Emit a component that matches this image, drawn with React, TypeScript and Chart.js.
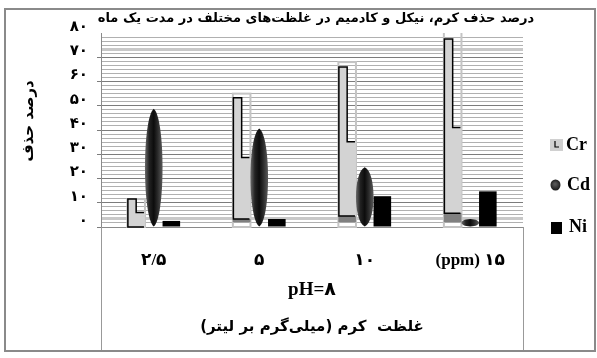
import React, { useEffect, useRef } from 'react';
import { Chart, registerables } from 'chart.js';

Chart.register(...registerables);

const categories = ['۲/۵', '۵', '۱۰', '(ppm) ۱۵'];
const seriesNames = ['Cr', 'Cd', 'Ni'];
const crTop = [11.5, 53.3, 66, 77.5];
const crStep = [6, 28.7, 35.2, 41];
const crBase = [0, 3.3, 4.5, 5.7];
const crFrame = [11.5, 55, 68, 85];
const cdValues = [48.8, 40.6, 24.6, 3.3];
const niValues = [2.5, 3.3, 12.7, 14.7];
const yTickLabels = ['۰', '۱۰', '۲۰', '۳۰', '۴۰', '۵۰', '۶۰', '۷۰', '۸۰'];
const chartTitle = 'درصد حذف کرم، نیکل و کادمیم در غلظت‌های مختلف در مدت یک ماه';
const yTitle = 'درصد حذف';
const phLabel = 'pH=۸';
const xTitle = 'غلظت  کرم (میلی‌گرم بر لیتر)\u200F';

const SANS = '"DejaVu Sans", sans-serif';
const SERIF = '"Liberation Serif", "DejaVu Sans", serif';

const decorPlugin = {
  id: 'decor',
  beforeDraw(chart: any) {
    const ctx = chart.ctx;
    ctx.save();
    ctx.fillStyle = '#ffffff';
    ctx.fillRect(0, 0, chart.width, chart.height);
    ctx.restore();
  },
  afterDatasetsDraw(chart: any) {
    const { ctx, chartArea, scales } = chart;
    const y = scales.y;
    ctx.save();
    ctx.beginPath();
    ctx.rect(chartArea.left, chartArea.top, chartArea.right - chartArea.left, chartArea.bottom - chartArea.top + 1);
    ctx.clip();

    // Cr stepped columns
    const crMeta = chart.getDatasetMeta(0);
    crMeta.data.forEach((bar: any, i: number) => {
      const { x, width } = bar.getProps(['x', 'width'], true);
      const l = x - width / 2;
      const r = x + width / 2;
      const mid = l + width * 0.5;
      const y0 = y.getPixelForValue(0);
      const yTop = y.getPixelForValue(crTop[i]);
      const yStep = y.getPixelForValue(crStep[i]);
      const yBase = y.getPixelForValue(crBase[i]);
      const yFrame = y.getPixelForValue(crFrame[i]);
      const yFoot = y.getPixelForValue(Math.min(crBase[i], 2));
      ctx.strokeStyle = '#c4c4c4';
      ctx.lineWidth = 2;
      ctx.strokeRect(l, yFrame, width, y0 - yFrame);
      ctx.fillStyle = '#d3d3d3';
      ctx.beginPath();
      ctx.moveTo(l, yBase);
      ctx.lineTo(l, yTop);
      ctx.lineTo(mid, yTop);
      ctx.lineTo(mid, yStep);
      ctx.lineTo(r, yStep);
      ctx.lineTo(r, yBase);
      ctx.closePath();
      ctx.fill();
      if (yFoot > yBase) {
        ctx.fillStyle = '#808080';
        ctx.fillRect(l, yBase, width, yFoot - yBase);
      }
      ctx.strokeStyle = '#000';
      ctx.lineWidth = 1.5;
      ctx.beginPath();
      ctx.moveTo(r - 1, yBase);
      ctx.lineTo(l + 0.5, yBase);
      ctx.lineTo(l + 0.5, yTop);
      ctx.lineTo(mid, yTop);
      ctx.lineTo(mid, yStep);
      ctx.lineTo(r - 1, yStep);
      ctx.stroke();
    });

    // Cd spindles
    const cdMeta = chart.getDatasetMeta(1);
    cdMeta.data.forEach((bar: any) => {
      const { x, y: yt, base, width } = bar.getProps(['x', 'y', 'base', 'width'], true);
      const h = base - yt;
      const k = (width / 2) / 0.75;
      const g = ctx.createLinearGradient(x - width / 2, 0, x + width / 2, 0);
      g.addColorStop(0, '#6a6a6a');
      g.addColorStop(0.25, '#222');
      g.addColorStop(0.5, '#0c0c0c');
      g.addColorStop(0.72, '#2a2a2a');
      g.addColorStop(1, '#5a5a5a');
      ctx.fillStyle = g;
      ctx.beginPath();
      ctx.moveTo(x, yt);
      ctx.bezierCurveTo(x + k, yt + h * 0.08, x + k, base - h * 0.08, x, base);
      ctx.bezierCurveTo(x - k, base - h * 0.08, x - k, yt + h * 0.08, x, yt);
      ctx.closePath();
      ctx.fill();
    });
    ctx.restore();
  },
  afterDraw(chart: any) {
    const { ctx, chartArea } = chart;
    ctx.save();
    ctx.strokeStyle = '#8a8a8a';
    ctx.lineWidth = 2;
    ctx.strokeRect(5, 9, 590, 342);
    ctx.strokeStyle = '#999';
    ctx.lineWidth = 1;
    ctx.beginPath();
    ctx.moveTo(Math.round(chartArea.left) + 0.5, chartArea.bottom);
    ctx.lineTo(Math.round(chartArea.left) + 0.5, 350);
    ctx.moveTo(Math.round(chartArea.right) + 0.5, chartArea.bottom);
    ctx.lineTo(Math.round(chartArea.right) + 0.5, 350);
    ctx.stroke();

    const cx = (chartArea.left + chartArea.right) / 2;
    ctx.fillStyle = '#000';
    ctx.textAlign = 'center';
    ctx.textBaseline = 'middle';
    // title
    ctx.font = `bold 13px ${SANS}`;
    ctx.fillText(chartTitle, 316, 19);
    // pH line
    ctx.font = `bold 19px ${SERIF}`;
    ctx.fillText(phLabel, cx, 290);

    // y title
    ctx.save();
    ctx.translate(29, 121);
    ctx.rotate(-Math.PI / 2);
    ctx.font = `bold 15px ${SANS}`;
    ctx.fillText(yTitle, 0, 0);
    ctx.restore();

    // legend
    const lx = chartArea.right + 27;
    const rowsY = [145, 185, 227];
    ctx.font = `bold 18px ${SERIF}`;
    ctx.textAlign = 'left';
    ctx.fillStyle = '#d0d0d0';
    ctx.fillRect(lx, rowsY[0] - 6, 13, 12);
    ctx.strokeStyle = '#000';
    ctx.lineWidth = 1.2;
    ctx.beginPath();
    ctx.moveTo(lx + 5, rowsY[0] - 4);
    ctx.lineTo(lx + 5, rowsY[0] + 2);
    ctx.lineTo(lx + 9, rowsY[0] + 2);
    ctx.stroke();
    const cg = ctx.createRadialGradient(lx + 5, rowsY[1] - 1, 1, lx + 5.5, rowsY[1], 6);
    cg.addColorStop(0, '#555');
    cg.addColorStop(1, '#111');
    ctx.fillStyle = cg;
    ctx.beginPath();
    ctx.ellipse(lx + 5.5, rowsY[1], 5, 5.5, 0, 0, Math.PI * 2);
    ctx.fill();
    ctx.fillStyle = '#000';
    ctx.fillRect(lx + 1, rowsY[2] - 5, 11, 12);
    ctx.fillText(seriesNames[0], lx + 16, rowsY[0]);
    ctx.fillText(seriesNames[1], lx + 17, rowsY[1]);
    ctx.fillText(seriesNames[2], lx + 19, rowsY[2]);
    ctx.restore();
  },
};

export default function App() {
  const canvasRef = useRef<HTMLCanvasElement | null>(null);

  useEffect(() => {
    const canvas = canvasRef.current;
    if (!canvas) return;
    const chart = new Chart(canvas, {
      type: 'bar',
      data: {
        labels: categories,
        datasets: [
          { label: seriesNames[0], data: crTop, backgroundColor: 'rgba(0,0,0,0)', borderWidth: 0 },
          { label: seriesNames[1], data: cdValues, backgroundColor: 'rgba(0,0,0,0)', borderWidth: 0 },
          { label: seriesNames[2], data: niValues, backgroundColor: '#000', borderWidth: 0 },
        ],
      },
      options: {
        responsive: false,
        animation: false,
        devicePixelRatio: 1,
        layout: { padding: { left: 0, right: 74, top: 33, bottom: 0 } },
        datasets: { bar: { categoryPercentage: 0.5, barPercentage: 1 } },
        plugins: {
          legend: { display: false },
          title: { display: false },
          tooltip: { enabled: false },
        },
        scales: {
          x: {
            grid: { display: false },
            border: { display: true, color: '#8a8a8a', width: 1 },
            ticks: {
              color: '#000',
              font: { family: SERIF, size: 17, weight: 'bold' },
              padding: 15,
              maxRotation: 0,
              autoSkip: false,
            },
            title: {
              display: true,
              text: xTitle,
              color: '#000',
              font: { family: SANS, size: 15, weight: 'bold', lineHeight: 1.2 },
              padding: { top: 0, bottom: 22 },
            },
            afterFit: (s: any) => {
              s.height = 131;
            },
          },
          y: {
            position: 'left',
            min: 0,
            max: 80,
            ticks: {
              stepSize: 10,
              color: '#000',
              font: { family: SANS, size: 15, weight: 'bold' },
              padding: 9,
              labelOffset: -6,
              callback: (v: any) => yTickLabels[Math.round(Number(v) / 10)],
            },
            grid: {
              color: (c: any) => (c.tick && c.tick.value >= 80 ? 'rgba(0,0,0,0)' : '#7c7c7c'),
              tickLength: 4,
              drawTicks: true,
              lineWidth: 1,
            },
            border: { display: true, color: '#8a8a8a', width: 1 },
            afterFit: (s: any) => {
              s.width = 101;
            },
          },
          y2: {
            position: 'left',
            min: 0,
            max: 80,
            ticks: { display: false, stepSize: 10 / 6 },
            grid: {
              drawTicks: false,
              color: (c: any) => {
                const i = c.index;
                if (i % 6 === 0) return 'rgba(0,0,0,0)';
                if (i === 2 || i === 44) return '#c8c8c8';
                return '#b0b0b0';
              },
              lineWidth: (c: any) => (c.index === 2 || c.index === 44 ? 3 : 1),
            },
            border: { display: false },
            afterFit: (s: any) => {
              s.width = 0;
            },
          },
        },
      } as any,
      plugins: [decorPlugin],
    });
    return () => chart.destroy();
  }, []);

  return (
    <div style={{ position: 'absolute', left: 0, top: 0, width: 597, height: 358, background: '#fff' }}>
      <canvas ref={canvasRef} width={597} height={358} style={{ width: 597, height: 358, display: 'block' }} />
    </div>
  );
}
